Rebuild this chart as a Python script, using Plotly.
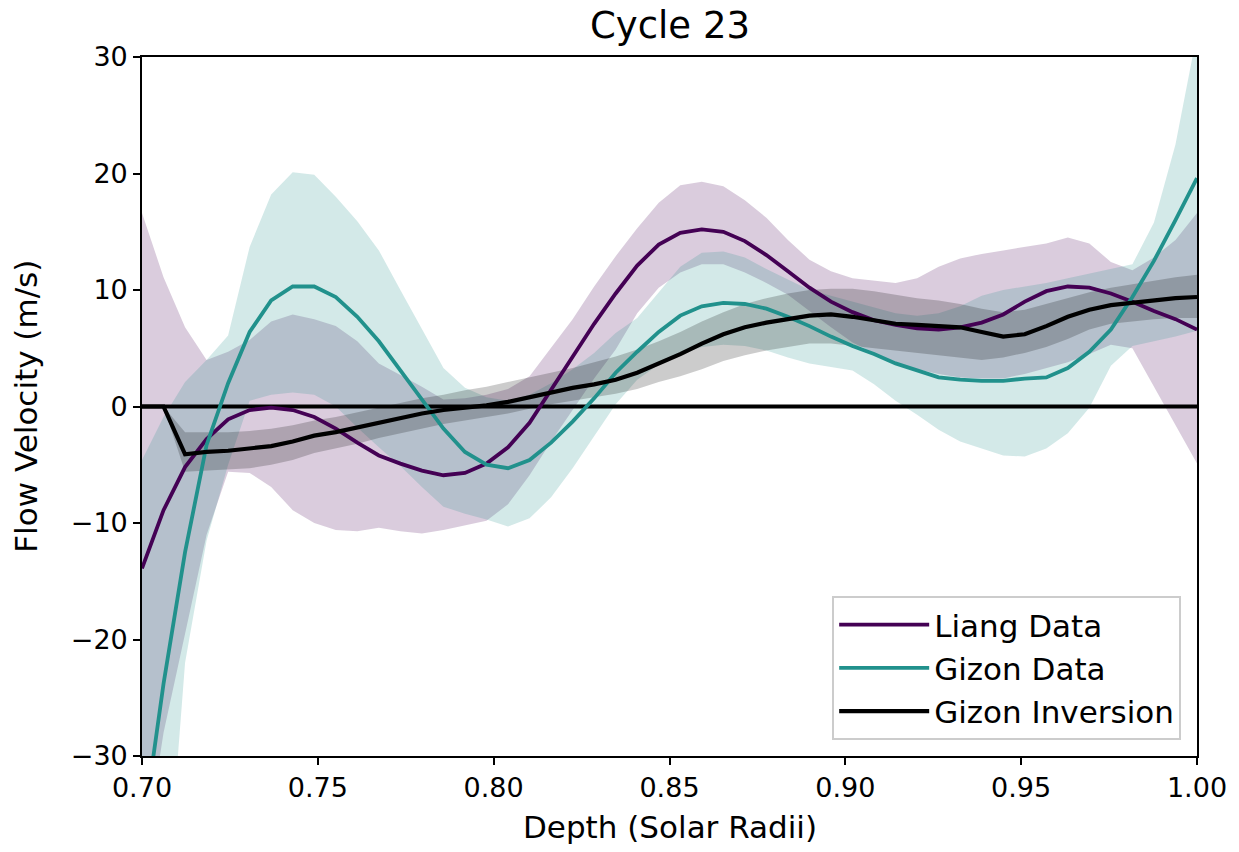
import numpy as np
import plotly.graph_objects as go

# ---- data ----
depth = np.linspace(0.70, 1.00, 50)

liang = [-13.9, -8.9, -5.2, -2.8, -1.1, -0.3, -0.1, -0.3, -0.9, -1.9,
         -3.1, -4.2, -4.9, -5.5, -5.9, -5.7, -4.9, -3.5, -1.4, 1.4,
         4.3, 7.1, 9.7, 12.1, 13.9, 14.9, 15.2, 15.0, 14.2, 13.0,
         11.6, 10.2, 9.0, 8.1, 7.4, 7.0, 6.7, 6.6, 6.8, 7.2,
         7.9, 9.0, 9.9, 10.3, 10.2, 9.7, 9.0, 8.2, 7.5, 6.6]
liang_upper = [16.6, 11.1, 6.8, 4.0, 4.7, 5.7, 7.3, 7.9, 7.5, 6.9,
               5.6, 3.7, 2.7, 1.7, 0.6, 0.7, 1.0, 1.5, 2.6, 5.0,
               7.5, 10.3, 12.9, 15.3, 17.5, 19.0, 19.3, 18.9, 17.7, 16.2,
               14.3, 12.6, 11.6, 11.0, 10.8, 10.6, 11.0, 12.0, 12.7, 13.1,
               13.4, 13.7, 14.0, 14.5, 14.0, 12.4, 11.7, 12.8, 14.3, 16.6]
liang_lower = [-40.0, -28.0, -19.5, -11.0, -5.6, -5.7, -6.9, -8.9, -10.0, -10.6,
               -10.7, -10.4, -10.7, -10.9, -10.6, -10.2, -9.8, -8.4, -5.9, -3.0,
               -0.3, 2.4, 4.9, 8.0, 10.2, 11.5, 12.2, 12.2, 11.5, 10.6,
               9.6, 8.2, 6.8, 5.5, 4.6, 3.8, 3.2, 2.8, 2.5, 2.4,
               2.4, 2.8, 3.3, 3.8, 4.5, 5.3, 5.0, 1.7, -1.5, -4.9]

gizon = [-37.0, -23.8, -12.5, -3.3, 2.0, 6.4, 9.1, 10.3, 10.3, 9.4,
         7.7, 5.6, 3.1, 0.6, -1.9, -3.9, -5.0, -5.3, -4.6, -3.1,
         -1.3, 0.7, 2.9, 4.7, 6.4, 7.8, 8.6, 8.9, 8.8, 8.4,
         7.7, 6.9, 6.0, 5.2, 4.5, 3.7, 3.1, 2.5, 2.3, 2.2,
         2.2, 2.4, 2.5, 3.3, 4.7, 6.6, 9.4, 12.5, 16.0, 19.6]
gizon_upper = [-4.6, -0.9, 2.1, 4.0, 6.1, 13.7, 18.2, 20.1, 19.9, 18.0,
               15.9, 13.4, 10.0, 6.6, 3.3, 1.6, 0.8, 0.5, 1.0, 2.0,
               3.2, 4.6, 6.3, 7.6, 9.8, 12.0, 13.2, 13.3, 12.8, 11.8,
               10.9, 10.0, 9.5, 9.0, 8.5, 8.0, 7.8, 8.0, 8.6, 9.5,
               10.0, 10.3, 10.6, 11.0, 11.4, 11.8, 12.2, 15.8, 22.5, 32.0]
gizon_lower = [-80.0, -46.0, -22.0, -11.5, -5.0, 0.5, 1.0, 1.2, 1.0, 0.0,
               -1.8, -3.5, -5.1, -6.9, -8.6, -9.2, -9.7, -10.3, -9.6, -7.8,
               -5.3, -2.5, 0.2, 2.3, 3.6, 4.5, 5.1, 5.3, 5.2, 4.8,
               4.2, 3.7, 3.4, 3.1, 1.9, 0.5, -0.7, -2.0, -3.0, -3.6,
               -4.2, -4.3, -3.6, -2.3, -0.1, 3.5, 5.2, 5.6, 6.0, 6.5]

inversion = [0.0, 0.0, -4.1, -3.9, -3.8, -3.6, -3.4, -3.0, -2.5, -2.2,
             -1.8, -1.4, -1.0, -0.6, -0.3, -0.1, 0.1, 0.4, 0.8, 1.2,
             1.6, 1.9, 2.3, 2.9, 3.7, 4.5, 5.4, 6.2, 6.8, 7.2,
             7.5, 7.8, 7.9, 7.7, 7.4, 7.1, 7.0, 6.9, 6.8, 6.4,
             6.0, 6.2, 6.9, 7.7, 8.3, 8.7, 8.9, 9.1, 9.3, 9.4]
inversion_upper = [0.0, 0.0, -2.2, -2.2, -2.2, -2.1, -1.9, -1.6, -1.2, -0.9,
                   -0.5, -0.1, 0.3, 0.7, 1.0, 1.4, 1.7, 2.1, 2.5, 2.9,
                   3.3, 3.8, 4.3, 4.9, 5.6, 6.4, 7.3, 8.1, 8.8, 9.3,
                   9.7, 10.0, 10.1, 10.1, 9.9, 9.6, 9.3, 9.1, 8.8, 8.4,
                   8.1, 8.3, 8.8, 9.3, 9.8, 10.2, 10.5, 10.8, 11.1, 11.3]
inversion_lower = [0.0, 0.0, -5.6, -5.5, -5.4, -5.3, -5.0, -4.6, -4.0, -3.6,
                   -3.2, -2.7, -2.3, -1.9, -1.5, -1.2, -0.9, -0.6, -0.2, 0.2,
                   0.5, 0.8, 1.1, 1.5, 2.1, 2.6, 3.2, 3.9, 4.4, 4.8,
                   5.1, 5.4, 5.4, 5.2, 5.0, 4.8, 4.6, 4.4, 4.2, 4.0,
                   4.2, 4.6, 5.1, 5.8, 6.6, 7.1, 7.3, 7.5, 7.6, 7.6]

zero_x = [0.70, 1.00]
zero_y = [0.0, 0.0]

x_ticks = [0.70, 0.75, 0.80, 0.85, 0.90, 0.95, 1.00]
y_ticks = [-30, -20, -10, 0, 10, 20, 30]
y_ticktext = ["\u221230", "\u221220", "\u221210", "0", "10", "20", "30"]

LIANG = "#440154"
GIZON = "#21918c"
INV = "#000000"

FONT = "DejaVu Sans"

fig = go.Figure()

def band(lower, upper, fillcolor):
    fig.add_trace(go.Scatter(x=depth, y=lower, mode="lines",
                             line=dict(width=0, color=fillcolor),
                             showlegend=False, hoverinfo="skip"))
    fig.add_trace(go.Scatter(x=depth, y=upper, mode="lines",
                             line=dict(width=0, color=fillcolor),
                             fill="tonexty", fillcolor=fillcolor,
                             showlegend=False, hoverinfo="skip"))

band(liang_lower, liang_upper, "rgba(68,1,84,0.2)")
band(gizon_lower, gizon_upper, "rgba(33,145,140,0.2)")
band(inversion_lower, inversion_upper, "rgba(0,0,0,0.2)")

fig.add_trace(go.Scatter(x=zero_x, y=zero_y, mode="lines",
                         line=dict(color="black", width=4),
                         showlegend=False, hoverinfo="skip"))
fig.add_trace(go.Scatter(x=depth, y=liang, mode="lines", name="Liang Data",
                         line=dict(color=LIANG, width=3.8)))
fig.add_trace(go.Scatter(x=depth, y=gizon, mode="lines", name="Gizon Data",
                         line=dict(color=GIZON, width=3.8)))
fig.add_trace(go.Scatter(x=depth, y=inversion, mode="lines", name="Gizon Inversion",
                         line=dict(color=INV, width=4.2)))

axis_common = dict(showline=True, linecolor="black", linewidth=1.6, mirror=True,
                   ticks="outside", ticklen=7, tickwidth=1.6, tickcolor="black",
                   showgrid=False, zeroline=False,
                   tickfont=dict(family=FONT, size=27, color="black"))

fig.update_xaxes(range=[0.70, 1.00], tickvals=x_ticks, tickformat=".2f", **axis_common)
fig.update_yaxes(range=[-30, 30], tickvals=y_ticks, ticktext=y_ticktext, **axis_common)

fig.update_layout(
    width=1239, height=852,
    margin=dict(l=142, r=40, t=57, b=96),
    paper_bgcolor="white", plot_bgcolor="white",
    font=dict(family=FONT, color="black"),
    showlegend=True,
    legend=dict(x=0.985, y=0.023, xanchor="right", yanchor="bottom",
                traceorder="normal", itemwidth=90, tracegroupgap=0,
                bgcolor="rgba(255,255,255,0.85)", bordercolor="#cccccc", borderwidth=2,
                font=dict(family=FONT, size=31, color="black")),
    annotations=[
        dict(text="Cycle 23", xref="paper", yref="paper", x=0.5, y=1 + 32 / 699,
             xanchor="center", yanchor="middle", showarrow=False,
             font=dict(family=FONT, size=37, color="black")),
        dict(text="Depth (Solar Radii)", xref="paper", yref="paper", x=0.5, y=-71 / 699,
             xanchor="center", yanchor="middle", showarrow=False,
             font=dict(family=FONT, size=31, color="black")),
        dict(text="Flow Velocity (m/s)", xref="paper", yref="paper", x=-117 / 1057, y=0.5,
             xanchor="center", yanchor="middle", showarrow=False, textangle=-90,
             font=dict(family=FONT, size=31, color="black")),
    ],
)

fig.write_html("out.html")
